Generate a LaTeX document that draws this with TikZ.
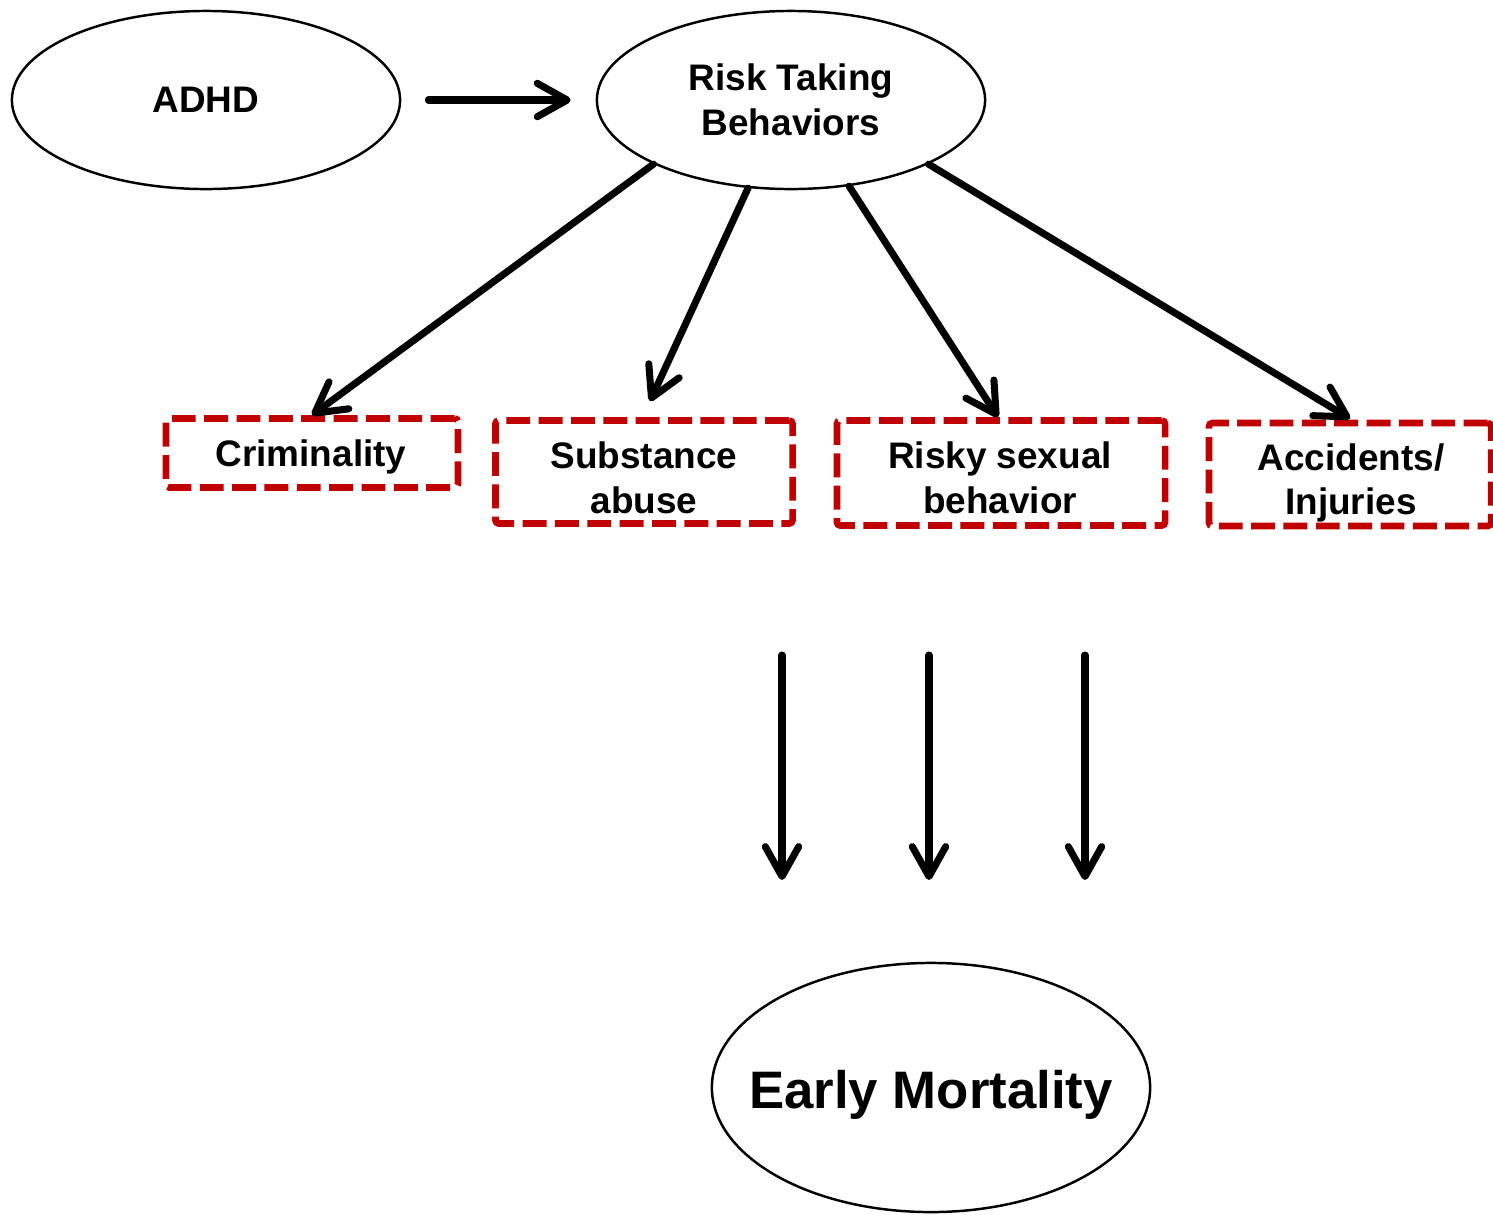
\documentclass[tikz,border=0pt]{standalone}
\usepackage{fontspec}
\setmainfont{Liberation Sans}
\usetikzlibrary{arrows.meta,shapes.geometric}
\definecolor{boxred}{HTML}{C00000}
\tikzset{
  oval/.style={draw=black, line width=0.7pt, ellipse, inner sep=0pt},
  riskbox/.style={draw=boxred, line width=1.9pt, dash pattern=on 6.8pt off 2.4pt,
    rounded corners=1pt, rectangle, inner sep=0pt},
  label text/.style={inner sep=0pt, align=center,
    font=\fontsize{10.5pt}{12.7pt}\selectfont\bfseries},
  big text/.style={inner sep=0pt, font=\fontsize{15pt}{18pt}\selectfont\bfseries},
  arr/.style={line width=2pt, line cap=round,
    -{Straight Barb[length=8.5pt,width=9.5pt,line cap=round,line join=round]}}
}
\begin{document}
\begin{tikzpicture}[x=0.01cm, y=-0.01cm]
  \useasboundingbox (0,0) rectangle (1493,1214);

  % top row
  \node[oval, minimum width=3.88cm, minimum height=1.78cm, label text] (adhd) at (206,100) {ADHD};
  \node[oval, minimum width=3.88cm, minimum height=1.78cm, label text] (rtb) at (791,100)
    {Risk Taking\\ Behaviors};

  % the four kinds of risk taking
  \node[riskbox, minimum width=2.92cm, minimum height=0.69cm] (crim) at (312,453) {};
  \node[riskbox, minimum width=2.97cm, minimum height=1.03cm] (subst) at (644,472) {};
  \node[riskbox, minimum width=3.28cm, minimum height=1.05cm] (sex) at (1001,473) {};
  \node[riskbox, minimum width=2.82cm, minimum height=1.03cm] (acc) at (1350,474.5) {};
  \node[label text] (crimT) at (311,457) {Criminality};
  \node[label text] (substT) at (644,477.5) {Substance\\abuse};
  \node[label text] (sexT) at (1000,477.5) {Risky sexual\\behavior};
  \node[label text] (accT) at (1351,483) {Accidents/\\Injuries};

  % outcome
  \node[oval, minimum width=4.38cm, minimum height=2.49cm] (mort) at (931,1087.5) {};
  \node[big text] (mortT) at (931,1095) {Early Mortality};

  % connectors
  \draw[arr] ([xshift=0.27cm]adhd.east) -- ([xshift=-0.25cm]rtb.west);
  \draw[arr] (rtb.205.5) -- (crim.north);
  \draw[arr] (rtb.244.5) -- ([xshift=0.06cm,yshift=0.16cm]subst.north);
  \draw[arr] (rtb.304) -- ([xshift=-0.03cm]sex.north);
  \draw[arr] (rtb.335) -- ([yshift=0.01cm]acc.north);

  % downward arrows towards early mortality
  \coordinate (d1s) at (782,655); \coordinate (d1e) at (782,880);
  \coordinate (d2s) at (929,655); \coordinate (d2e) at (929,880);
  \coordinate (d3s) at (1085,655); \coordinate (d3e) at (1085,880);
  \draw[arr] (d1s) -- (d1e);
  \draw[arr] (d2s) -- (d2e);
  \draw[arr] (d3s) -- (d3e);
\end{tikzpicture}
\end{document}
